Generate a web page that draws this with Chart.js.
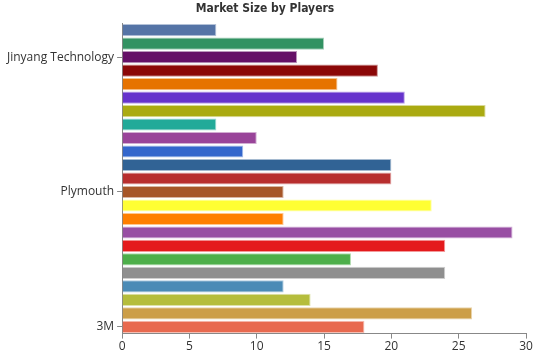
<!DOCTYPE html>
<html>
<head>
<meta charset="utf-8">
<script src="https://cdn.jsdelivr.net/npm/chart.js@4"></script>
<style>
  body { margin: 0; background: #fff; }
  #wrap { width: 539px; height: 359px; }
</style>
</head>
<body>
<div id="wrap"><canvas id="chart"></canvas></div>
<script>
// bottom to top (y axis reversed below)
const players = ["3M", "", "", "", "", "", "", "", "", "", "Plymouth", "", "", "", "", "", "", "", "", "", "Jinyang Technology", "", ""];
const marketSize = [18, 26, 14, 12, 24, 17, 24, 29, 12, 23, 12, 20, 20, 9, 10, 7, 27, 21, 16, 19, 13, 15, 7];
const barColors = ["#e8694f", "#cc9e47", "#b5bd3c", "#4b8bb6", "#8f8f8f", "#4daf4a", "#e41a1c", "#984ea3",
  "#ff7f00", "#ffff33", "#a65628", "#b82e2e", "#316395", "#3366cc", "#994499", "#22aa99",
  "#aaaa11", "#6633cc", "#e67300", "#8b0707", "#651067", "#329262", "#5574a6"];
const xTicks = [0, 5, 10, 15, 20, 25, 30];

new Chart(document.getElementById("chart"), {
  type: "bar",
  data: {
    labels: players,
    datasets: [
      {
        label: "Market Size",
        data: marketSize,
        backgroundColor: barColors,
        borderColor: barColors.map((c) => c + "70"),
        borderWidth: 1,
        categoryPercentage: 1,
        barPercentage: 0.9,
      },
    ],
  },
  options: {
    indexAxis: "y",
    responsive: true,
    maintainAspectRatio: false,
    animation: false,
    layout: { padding: { left: 4, right: 13, top: 0, bottom: 4 } },
    plugins: {
      legend: { display: false },
      tooltip: { enabled: false },
      title: {
        display: true,
        text: "Market Size by Players",
        color: "#333",
        font: { family: "'DejaVu Sans Condensed', 'DejaVu Sans'", size: 12, weight: "bold" },
        padding: { top: 2, bottom: 7 },
      },
    },
    scales: {
      x: {
        min: xTicks[0],
        max: xTicks[xTicks.length - 1],
        afterBuildTicks: (axis) => {
          axis.ticks = xTicks.map((v) => ({ value: v }));
        },
        grid: { drawOnChartArea: false, drawTicks: true, tickLength: 5, color: "#888" },
        border: { display: true, color: "#888" },
        ticks: { color: "#333", font: { family: "Open Sans", size: 12 }, padding: 1 },
      },
      y: {
        reverse: true,
        grid: {
          offset: false,
          drawOnChartArea: false,
          drawTicks: true,
          tickLength: 5,
          tickColor: (ctx) => (ctx.tick && ctx.tick.label ? "#888" : "rgba(0,0,0,0)"),
        },
        border: { display: true, color: "#888" },
        ticks: { autoSkip: false, color: "#333", font: { family: "Open Sans", size: 12 }, padding: 3 },
      },
    },
  },
});
</script>
</body>
</html>
